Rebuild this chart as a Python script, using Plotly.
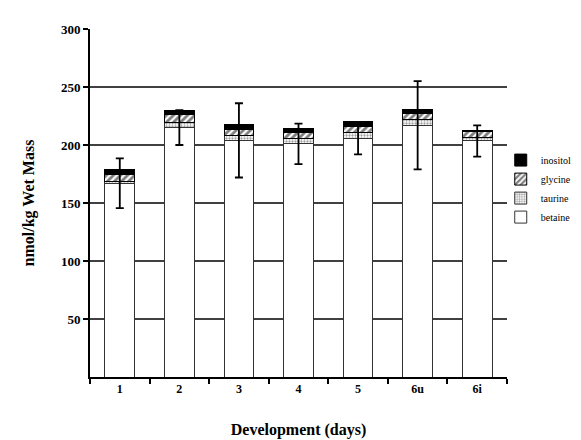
import plotly.graph_objects as go

categories = ["1", "2", "3", "4", "5", "6u", "6i"]
betaine = [167, 215, 204, 201, 206, 217, 203.5]
taurine = [1.5, 4, 4.5, 5, 5, 5, 3]
glycine = [6, 7, 4.5, 5, 5, 5, 5]
inositol = [4, 4, 5, 3, 4, 4, 1]
betaine_err = [21.5, 15, 32, 17.5, 14, 38, 13.5]
y_ticks = [50, 100, 150, 200, 250, 300]
grid_values = [50, 100, 150, 200, 250]

serif = "Liberation Serif, Times New Roman, serif"

fig = go.Figure()
fig.add_trace(go.Bar(
    x=categories, y=betaine, name="betaine", legendgroup="b",
    marker=dict(color="white", line=dict(color="#333333", width=1)),
))
fig.add_trace(go.Bar(
    x=categories, y=taurine, name="taurine", legendgroup="t",
    marker=dict(color="white", line=dict(color="#333333", width=1),
                pattern=dict(shape=".", fgcolor="#444444", bgcolor="white",
                             size=3, solidity=0.45)),
))
fig.add_trace(go.Bar(
    x=categories, y=glycine, name="glycine", legendgroup="g",
    marker=dict(color="white", line=dict(color="black", width=1),
                pattern=dict(shape="/", fgcolor="black", bgcolor="white",
                             size=5, solidity=0.55)),
))
fig.add_trace(go.Bar(
    x=categories, y=inositol, name="inositol", legendgroup="i",
    marker=dict(color="black", line=dict(color="black", width=1)),
))
fig.add_trace(go.Scatter(
    x=categories, y=betaine, mode="markers", showlegend=False,
    marker=dict(size=1, color="rgba(0,0,0,0)"),
    error_y=dict(type="data", array=betaine_err, visible=True,
                 color="black", thickness=1.8, width=4),
    hoverinfo="skip",
))

for g in grid_values:
    fig.add_shape(type="line", xref="paper", x0=0, x1=1, yref="y", y0=g, y1=g,
                  layer="below", line=dict(color="black", width=1.5))

fig.update_layout(
    width=581, height=440,
    margin=dict(l=82, r=71, t=21, b=68),
    paper_bgcolor="white", plot_bgcolor="white",
    barmode="stack", bargap=0.5,
    font=dict(family=serif, color="black"),
    showlegend=True,
    legend=dict(x=0.985, y=0.665, xanchor="left", yanchor="top",
                traceorder="reversed", tracegroupgap=13,
                font=dict(family=serif, size=10, color="black"),
                itemwidth=30, bgcolor="rgba(0,0,0,0)"),
)
fig.update_xaxes(
    type="category", showline=True, linecolor="black", linewidth=2,
    ticks="outside", tickson="boundaries", ticklen=5, tickwidth=2, tickcolor="black",
    tickfont=dict(family=serif, size=12, color="black", weight="bold"),
    showgrid=False,
    title=dict(text="<b>Development (days)</b>", font=dict(family=serif, size=16), standoff=28),
)
fig.update_yaxes(
    range=[0, 300], tickvals=y_ticks, showline=True, linecolor="black", linewidth=2,
    ticks="outside", ticklen=5, tickwidth=2, tickcolor="black",
    tickfont=dict(family=serif, size=13, color="black", weight="bold"),
    showgrid=False, zeroline=False,
    title=dict(text="<b>nmol/kg Wet Mass</b>", font=dict(family=serif, size=16), standoff=22),
)

fig.write_html("out.html")
